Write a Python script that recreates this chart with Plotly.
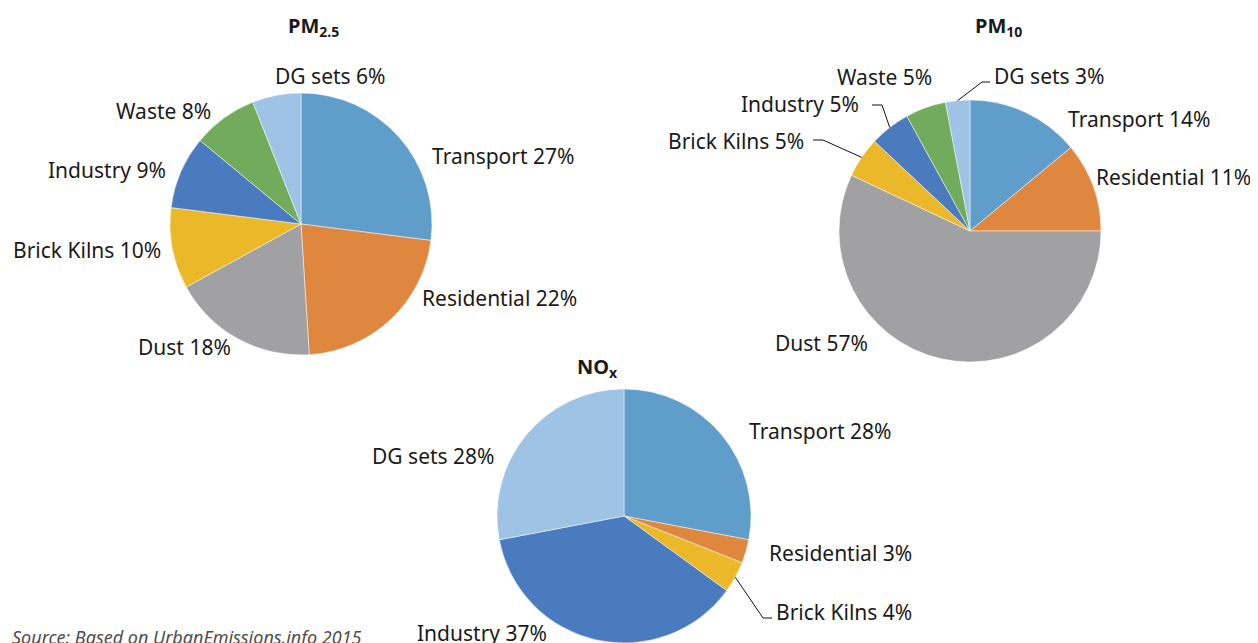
import math
import plotly.graph_objects as go

# ---------------- data ----------------
categories = ["Transport", "Residential", "Dust", "Brick Kilns", "Industry", "Waste", "DG sets"]
pm25_values = [27, 22, 18, 10, 9, 8, 6]
pm10_values = [14, 11, 57, 5, 5, 5, 3]
nox_categories = ["Transport", "Residential", "Brick Kilns", "Industry", "DG sets"]
nox_values = [28, 3, 4, 37, 28]
chart_titles = ["<b>PM<sub>2.5</sub></b>", "<b>PM<sub>10</sub></b>", "<b>NO<sub>x</sub></b>"]
source_text = "Source: Based on UrbanEmissions.info 2015"

# ---------------- style / layout ----------------
W, H = 1258, 643
OFF = 8  # page body margin offset
FONT = "Noto Sans"
TXT = "#1a1a1a"
LABEL_SIZE = 21
TITLE_SIZE = 20
colors = {
    "Transport": "#5f9dca",
    "Residential": "#e0873f",
    "Dust": "#a1a1a4",
    "Brick Kilns": "#ebb82a",
    "Industry": "#4b7bbf",
    "Waste": "#72ab5b",
    "DG sets": "#9fc3e5",
}

# pie geometry in screen pixels: centre x, centre y, radius
geom = {
    "pm25": (301, 224, 131),
    "pm10": (970, 231, 131),
    "nox": (624, 516, 127),
}
title_pos = {"pm25": (313, 27), "pm10": (998, 27), "nox": (597, 367)}

# label placement: (x, y, xanchor) in screen pixels
label_pos = {
    "pm25": {
        "Transport": (430, 156, "left"),
        "Residential": (420, 298, "left"),
        "Dust": (233, 347, "right"),
        "Brick Kilns": (163, 250, "right"),
        "Industry": (168, 170, "right"),
        "Waste": (213, 111, "right"),
        "DG sets": (273, 76, "left"),
    },
    "pm10": {
        "Transport": (1066, 119, "left"),
        "Residential": (1094, 177, "left"),
        "Dust": (870, 343, "right"),
        "Brick Kilns": (806, 141, "right"),
        "Industry": (861, 104, "right"),
        "Waste": (934, 77, "right"),
        "DG sets": (992, 76, "left"),
    },
    "nox": {
        "Transport": (747, 431, "left"),
        "Residential": (767, 553, "left"),
        "Brick Kilns": (774, 612, "left"),
        "Industry": (415, 633, "left"),
        "DG sets": (497, 456, "right"),
    },
}
# leader lines: elbow point and end point (screen pixels)
leaders = {
    ("pm10", "DG sets"): [(982, 82), (990, 82)],
    ("pm10", "Industry"): [(882, 105), (872, 105)],
    ("pm10", "Brick Kilns"): [(823, 140), (813, 140)],
    ("nox", "Brick Kilns"): [(763, 618), (772, 618)],
}


def px(x):
    return (x - OFF) / W


def py(y):
    return 1 - (y - OFF) / H


fig = go.Figure()
annotations = []
shapes = []

charts = [
    ("pm25", categories, pm25_values),
    ("pm10", categories, pm10_values),
    ("nox", nox_categories, nox_values),
]

for idx, (key, labs, vals) in enumerate(charts):
    cx, cy, r = geom[key]
    fig.add_trace(go.Pie(
        labels=labs,
        values=vals,
        sort=False,
        direction="clockwise",
        rotation=0,
        textinfo="none",
        hovertemplate="%{label}: %{value}%<extra></extra>",
        marker=dict(colors=[colors[c] for c in labs],
                    line=dict(color="rgba(255,255,255,0.6)", width=0.8)),
        domain=dict(x=[px(cx - r), px(cx + r)], y=[max(0, py(cy + r)), min(1, py(cy - r))]),
        showlegend=False,
    ))
    total = sum(vals)
    cum = 0
    for lab, v in zip(labs, vals):
        mid = (cum + v / 2) / total * 2 * math.pi
        cum += v
        lx, ly, anc = label_pos[key][lab]
        annotations.append(dict(
            x=px(lx), y=py(ly), xref="paper", yref="paper",
            xanchor=anc, yanchor="middle", showarrow=False,
            text=f"{lab} {v}%",
            font=dict(family=FONT, size=LABEL_SIZE, color=TXT),
        ))
        if (key, lab) in leaders:
            ex = cx + r * math.sin(mid)
            ey = cy - r * math.cos(mid)
            pts = [(ex, ey)] + leaders[(key, lab)]
            path = "M " + " L ".join(f"{px(a)},{py(b)}" for a, b in pts)
            shapes.append(dict(type="path", xref="paper", yref="paper", path=path,
                               line=dict(color="#111111", width=1)))
    tx, ty = title_pos[key]
    annotations.append(dict(
        x=px(tx), y=py(ty), xref="paper", yref="paper", xanchor="center", yanchor="middle",
        showarrow=False, text=chart_titles[idx],
        font=dict(family=FONT, size=TITLE_SIZE, color=TXT),
    ))

annotations.append(dict(
    x=px(10), y=py(637), xref="paper", yref="paper", xanchor="left", yanchor="middle",
    showarrow=False, text=f"<i>{source_text}</i>",
    font=dict(family=FONT, size=18, color="#4d4d4d"),
))

fig.update_layout(
    width=W, height=H,
    margin=dict(l=0, r=0, t=0, b=0),
    paper_bgcolor="white", plot_bgcolor="white",
    annotations=annotations, shapes=shapes,
    font=dict(family=FONT),
)

fig.write_html("out.html")
